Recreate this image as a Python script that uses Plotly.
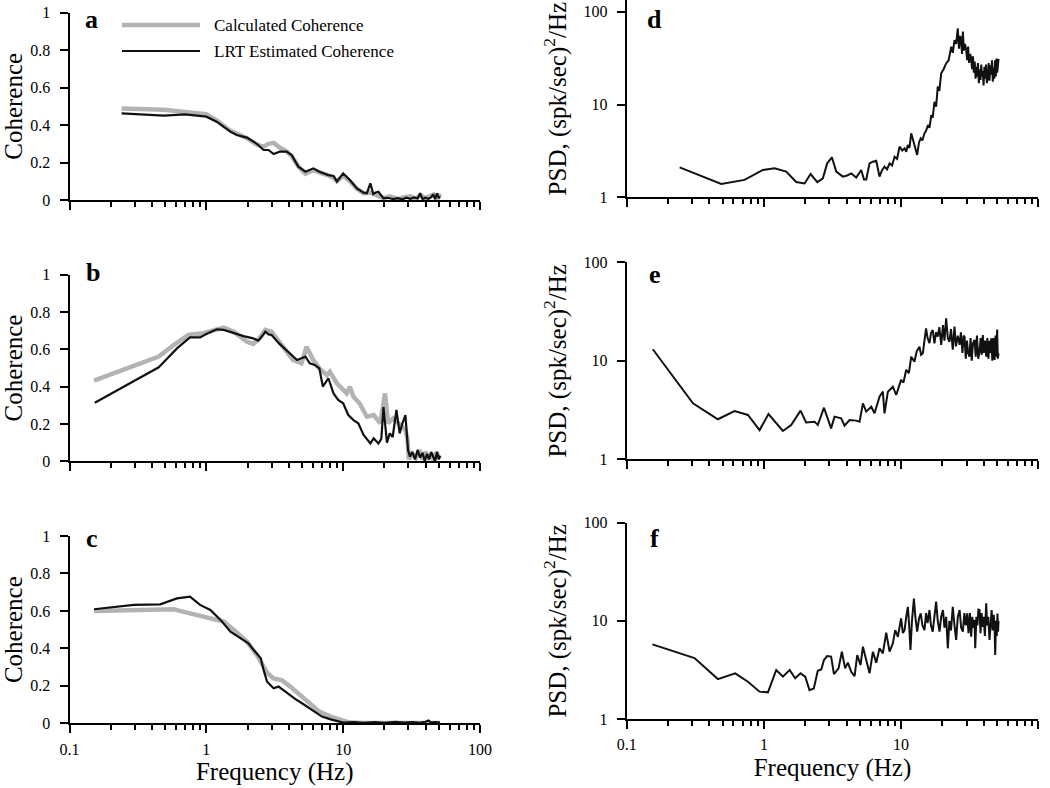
import plotly.graph_objects as go

# ---------------- data ----------------
# Panel a
a_calc_f = [0.24, 0.49, 0.70, 1.0, 1.19, 1.5, 1.98, 2.34, 2.62, 2.85, 3.1, 3.44, 3.86, 4.2, 4.7,
            5.3, 6.05, 6.7, 7.8, 8.5, 9.0, 10.0, 11.2, 12.6, 14.1, 15.8, 17.3, 19.7, 22, 25, 28,
            31, 34, 37, 40, 43, 46, 49, 51]
a_calc = [0.489, 0.482, 0.47, 0.458, 0.425, 0.37, 0.33, 0.295, 0.285, 0.30, 0.305, 0.28, 0.26,
          0.235, 0.18, 0.14, 0.16, 0.15, 0.13, 0.12, 0.10, 0.13, 0.10, 0.06, 0.035, 0.04, 0.03,
          0.01, 0.02, 0.005, 0.015, 0.02, 0.008, 0.025, 0.01, 0.02, 0.03, 0.01, 0.035]
a_lrt_f = [0.24, 0.49, 0.70, 1.0, 1.19, 1.5, 1.67, 1.98, 2.34, 2.62, 2.85, 3.1, 3.44, 3.86, 4.2,
           4.7, 5.3, 6.05, 6.7, 7.8, 8.5, 9.0, 10.0, 11.2, 12.6, 14.1, 14.9, 15.8, 16.6, 17.3,
           18.1, 19.7, 21.0, 23.2, 25.0, 27.0, 29.0, 31.0, 33.0, 35.0, 36.5, 38.0, 40.0, 42.0,
           44.0, 45.5, 47.0, 48.5, 50.0, 51.0]
a_lrt = [0.463, 0.45, 0.457, 0.445, 0.418, 0.365, 0.347, 0.333, 0.30, 0.267, 0.267, 0.245,
         0.258, 0.258, 0.24, 0.178, 0.151, 0.169, 0.151, 0.133, 0.128, 0.098, 0.142, 0.107,
         0.062, 0.039, 0.036, 0.089, 0.032, 0.040, 0.044, 0.009, 0.012, 0.005, 0.010, 0.004,
         0.012, 0.006, 0.014, 0.008, 0.036, 0.005, 0.012, 0.006, 0.015, 0.030, 0.004, 0.035,
         0.010, 0.020]

# Panel b
b_calc_f = [0.151, 0.449, 0.577, 0.74, 0.95, 1.19, 1.34, 1.59, 1.98, 2.2, 2.45, 2.7, 3.0, 3.4,
            4.3, 4.96, 5.4, 6.05, 6.7, 7.6, 8.0, 9.0, 10.6, 11.2, 11.9, 13.2, 14.9, 16.7, 18.7,
            20.2, 21.3, 23.2, 25.9, 28.5, 29.5, 30.2, 32, 34, 36, 38, 40, 42, 44, 46, 48, 50, 51]
b_calc = [0.432, 0.561, 0.623, 0.677, 0.686, 0.707, 0.716, 0.695, 0.641, 0.629, 0.66, 0.704,
          0.695, 0.641, 0.543, 0.525, 0.614, 0.543, 0.498, 0.4625, 0.48, 0.418, 0.364, 0.40,
          0.346, 0.31, 0.239, 0.248, 0.204, 0.364, 0.204, 0.23, 0.2, 0.168, 0.12, 0.01, 0.04,
          0.02, 0.06, 0.01, 0.05, 0.02, 0.04, 0.0, 0.05, 0.02, 0.03]
b_lrt_f = [0.153, 0.449, 0.52, 0.61, 0.76, 0.90, 1.0, 1.19, 1.34, 1.59, 1.87, 2.2, 2.4, 2.55,
           2.7, 2.85, 3.0, 3.4, 4.1, 4.6, 4.96, 5.3, 5.7, 6.2, 6.7, 7.1, 7.8, 8.5, 9.2, 10.0,
           10.9, 11.9, 12.9, 14.1, 15.8, 16.7, 18.1, 19.0, 19.7, 20.9, 21.9, 23.0, 24.5, 25.9,
           27.0, 28.5, 29.8, 30.8, 32, 33.5, 35, 36.5, 38, 39.5, 41, 42.5, 44, 45.5, 47, 48.5,
           50, 51]
b_lrt = [0.314, 0.504, 0.552, 0.605, 0.664, 0.664, 0.682, 0.707, 0.704, 0.686, 0.671, 0.659,
         0.646, 0.67, 0.695, 0.68, 0.677, 0.632, 0.579, 0.543, 0.552, 0.561, 0.525, 0.516,
         0.498, 0.40, 0.445, 0.364, 0.329, 0.311, 0.248, 0.221, 0.204, 0.141, 0.096, 0.123,
         0.096, 0.12, 0.29, 0.10, 0.15, 0.13, 0.275, 0.15, 0.20, 0.248, 0.06, 0.025, 0.05, 0.01,
         0.06, 0.02, 0.045, 0.0, 0.04, 0.01, 0.05, 0.02, 0.0, 0.05, 0.01, 0.03]

# Panel c
c_calc_f = [0.151, 0.58, 0.64, 0.9, 1.13, 1.34, 1.59, 1.98, 2.34, 2.78, 3.1, 3.55, 4.1, 4.8,
            5.7, 6.7, 8.1, 9.6, 11.2, 15, 20, 30, 40, 51]
c_calc = [0.6, 0.609, 0.6, 0.575, 0.56, 0.543, 0.498, 0.436, 0.365, 0.27, 0.24, 0.231, 0.196,
          0.151, 0.107, 0.062, 0.036, 0.018, 0.004, 0.002, 0.003, 0.002, 0.004, 0.002]
c_lrt_f = [0.151, 0.295, 0.46, 0.61, 0.76, 0.90, 1.07, 1.27, 1.5, 1.76, 2.03, 2.22, 2.5, 2.62,
           2.78, 3.1, 3.37, 3.87, 4.4, 5.1, 6.05, 7.0, 8.1, 9.0, 10, 12, 14, 17, 20, 24, 28,
           32, 36, 40, 42, 44, 47, 51]
c_lrt = [0.609, 0.632, 0.635, 0.667, 0.676, 0.632, 0.605, 0.552, 0.489, 0.454, 0.427, 0.391,
         0.347, 0.285, 0.222, 0.187, 0.196, 0.164, 0.133, 0.103, 0.068, 0.036, 0.021, 0.014,
         0.004, 0.006, 0.003, 0.006, 0.002, 0.008, 0.004, 0.007, 0.003, 0.008, 0.015, 0.004,
         0.006, 0.004]

# Panel d (PSD)
d_f = [0.243, 0.489, 0.723, 0.983, 1.196, 1.454, 1.72, 1.98, 2.19, 2.45, 2.69, 2.89, 3.13, 3.37,
       3.76, 4.05, 4.33, 4.71, 5.12, 5.36, 5.57, 5.89, 6.23, 6.59, 6.96, 7.25, 7.57, 7.9, 8.24,
       8.6, 8.96, 9.35, 9.74, 10.2, 10.6, 10.9, 11.2, 11.5, 11.85, 12.2, 12.5, 13.1, 13.5, 13.9,
       14.3, 14.8, 15.2, 15.7, 16.1, 16.6, 17.0, 17.5, 18.0, 18.5, 19.0, 19.6, 20.4, 21.3, 22.2,
       22.7, 23.2, 23.8, 24.5, 25.2, 25.9, 26.4, 27.0, 27.4, 27.8, 28.2, 28.7, 29.2, 29.8, 30.3,
       30.8, 31.3, 31.9, 32.4, 32.9, 33.4, 33.9, 34.4, 34.9, 35.3, 35.8, 36.3, 36.9, 37.4, 37.9,
       38.4, 38.9, 39.4, 39.9, 40.5, 41.0, 41.6, 42.2, 42.9, 43.5, 44.1, 44.7, 45.4, 46.0, 46.6,
       47.2, 47.8, 48.4, 49.0, 49.6, 50.2, 50.7, 51.3]
d_psd = [2.1, 1.39, 1.54, 1.97, 2.05, 1.89, 1.46, 1.41, 1.78, 1.46, 1.6, 2.32, 2.7, 1.89, 1.67,
         1.72, 1.81, 1.63, 1.97, 1.56, 1.56, 2.32, 2.42, 2.48, 1.67, 1.95, 2.14, 2.0, 2.32, 2.2,
         2.74, 2.6, 3.51, 3.2, 3.37, 3.1, 3.66, 3.4, 4.89, 4.2, 3.81, 2.86, 3.9, 4.32, 4.1, 4.89,
         5.2, 6.0, 5.6, 7.7, 7.2, 10.7, 9.5, 15.6, 14.0, 21.7, 24, 27.7, 30, 38, 42, 36, 49.5,
         45, 66, 40, 55, 48, 35, 61, 38, 45, 39, 30, 42, 28, 35, 31.3, 24, 33, 22, 29, 19, 25.5,
         20, 28, 17, 24, 18.4, 27, 20, 23, 16, 25.5, 19, 27, 17, 20, 28, 18, 26.5, 21, 30, 17.6,
         25, 19, 30, 20, 31.3, 22, 30, 31]

# Panel e (PSD)
e_f = [0.155, 0.304, 0.462, 0.611, 0.765, 0.93, 1.08, 1.375, 1.58, 1.85, 2.03, 2.34, 2.47, 2.74,
       3.09, 3.27, 3.66, 3.87, 4.21, 4.71, 4.98, 5.27, 5.57, 6.06, 6.4, 6.96, 7.36, 7.57, 8.01,
       8.71, 9.21, 10.0, 10.4, 10.9, 11.4, 11.85, 12.5, 13.0, 13.6, 14.0, 14.4, 14.8, 15.2, 15.6,
       16.1, 16.5, 17.0, 17.5, 18.0, 18.5, 19.0, 19.6, 20.2, 20.7, 21.3, 21.9, 22.5, 23.1, 23.8,
       24.5, 25.1, 25.9, 26.7, 27.3, 28.0, 28.6, 29.0, 29.6, 30.2, 30.8, 31.5, 32.1, 32.7, 33.4,
       34.3, 35.0, 35.7, 36.5, 37.3, 38.0, 38.7, 39.4, 40.0, 40.8, 41.7, 42.5, 43.3, 44.1, 44.7,
       45.4, 46.2, 47.0, 48.0, 48.8, 49.5, 50.1, 50.7, 51.3]
e_psd = [13.1, 3.7, 2.55, 3.09, 2.82, 1.98, 2.88, 1.94, 2.23, 3.12, 2.37, 2.41, 2.23, 3.34, 2.06,
         2.71, 2.61, 2.19, 2.5, 2.47, 2.41, 3.7, 3.05, 3.42, 2.93, 4.33, 4.86, 2.93, 4.86, 5.46,
         4.5, 6.4, 6.0, 8.1, 7.5, 11, 9.8, 12.5, 13.9, 11.5, 11.9, 16, 21.3, 17, 15.1, 19, 20.5,
         15, 19.5, 17.6, 22, 14.5, 23, 16, 27, 17, 15.6, 21, 13, 22.2, 14, 18, 14.5, 19.5, 12,
         18, 17.6, 10.5, 16, 12, 11, 17, 10, 15, 16.3, 11, 18, 10.5, 12.4, 17, 11.5, 18.3, 12, 16,
         11, 17, 10.5, 16, 12, 16.9, 10, 17, 10.2, 18, 11, 20.8, 10.5, 11.9]

# Panel f (PSD)
f_f = [0.154, 0.312, 0.462, 0.618, 0.765, 0.93, 1.07, 1.23, 1.375, 1.54, 1.69, 1.85, 2.0, 2.15,
       2.31, 2.47, 2.62, 2.74, 2.89, 3.09, 3.24, 3.5, 3.7, 3.91, 4.09, 4.33, 4.58, 4.79, 5.06,
       5.27, 5.57, 5.89, 6.23, 6.59, 6.96, 7.36, 7.79, 8.24, 8.71, 9.06, 9.47, 10.0, 10.3, 10.6,
       10.9, 11.2, 11.45, 11.7, 12.0, 12.4, 12.7, 13.1, 13.5, 13.9, 14.3, 14.8, 15.2, 15.6,
       16.1, 16.5, 17.0, 17.5, 18.0, 18.5, 19.05, 19.6, 20.2, 20.7, 21.3, 21.9, 22.5, 23.1,
       23.8, 24.5, 25.2, 25.9, 26.7, 27.4, 28.2, 28.9, 29.6, 30.3, 31.0, 31.7, 32.4, 33.0,
       33.6, 34.3, 34.7, 35.4, 36.0, 36.6, 37.3, 37.9, 38.6, 39.4, 40.0, 40.8, 41.7, 42.4,
       43.2, 44.1, 44.9, 45.7, 46.5, 47.3, 48.0, 48.5, 49.2, 49.8, 50.4, 50.9, 51.3]
f_psd = [5.76, 4.18, 2.55, 2.92, 2.4, 1.9, 1.87, 3.16, 2.7, 3.16, 2.6, 2.92, 2.7, 1.97, 2.05,
         3.1, 3.2, 3.99, 4.38, 4.32, 2.87, 3.28, 4.85, 3.28, 3.75, 3.03, 2.74, 4.48, 3.55, 5.45,
         3.99, 2.92, 4.85, 3.75, 5.25, 4.66, 7.56, 4.85, 5.9, 8.05, 6.88, 10.6, 7.5, 8.05, 11,
         13.9, 9, 5.04, 10, 16.9, 11, 7.77, 10.5, 11.9, 9, 8.05, 12, 9.5, 12.9, 9, 7.77, 11, 15.7,
         10, 7.77, 11, 12.9, 8.5, 11, 5.25, 10, 8, 13.9, 9, 6.38, 11, 12.9, 8.5, 7.77, 12, 9,
         11.9, 7.5, 12, 6.88, 11, 8.5, 10.2, 5.25, 11, 9, 13, 12.9, 7.5, 12, 8.7, 11, 7, 15.1, 9,
         11, 6.38, 10, 12.9, 8, 11.5, 9, 4.48, 10, 7, 11.9, 7.77, 10]

x_tickvals = [0.1, 1, 10, 100]
x_ticktext = ["0.1", "1", "10", "100"]
coh_tickvals = [0, 0.2, 0.4, 0.6, 0.8, 1]
coh_ticktext = ["0", "0.2", "0.4", "0.6", "0.8", "1"]
psd_tickvals = [1, 10, 100]
psd_ticktext = ["1", "10", "100"]
panel_letters = ["a", "b", "c", "d", "e", "f"]
legend_names = ["Calculated Coherence", "LRT Estimated Coherence"]

# ---------------- styling ----------------
FONT = "Liberation Serif"
GRAY = "#b3b3b3"
BLACK = "#111111"
W, H = 1050, 788

def px_x(p):
    return p / W

def px_y(p):
    return 1 - p / H

left_dom = [px_x(69.5), px_x(480)]
right_dom = [px_x(626.7), px_x(1038.3)]
ydoms = {
    1: [px_y(200), px_y(12.7)],
    2: [px_y(461.3), px_y(274.7)],
    3: [px_y(723.3), px_y(536)],
    4: [px_y(197.3), 1.0],
    5: [px_y(459.3), px_y(262.3)],
    6: [px_y(719), px_y(522.7)],
}
yranges_psd = {4: [0, 2.126], 5: [0, 2], 6: [0, 2]}

minor_vals = [m * 10 ** e for e in (-1, 0, 1) for m in range(2, 10)]

fig = go.Figure()

coh_data = [
    (a_calc_f, a_calc, a_lrt_f, a_lrt),
    (b_calc_f, b_calc, b_lrt_f, b_lrt),
    (c_calc_f, c_calc, c_lrt_f, c_lrt),
]
for i, (cf, cv, lf, lv) in enumerate(coh_data, start=1):
    xa = "x" if i == 1 else f"x{i}"
    ya = "y" if i == 1 else f"y{i}"
    fig.add_trace(go.Scatter(x=cf, y=cv, mode="lines", name=legend_names[0],
                             line=dict(color=GRAY, width=4.5), xaxis=xa, yaxis=ya,
                             showlegend=False))
    fig.add_trace(go.Scatter(x=lf, y=lv, mode="lines", name=legend_names[1],
                             line=dict(color=BLACK, width=2.2), xaxis=xa, yaxis=ya,
                             showlegend=False))

psd_data = [(d_f, d_psd), (e_f, e_psd), (f_f, f_psd)]
for j, (pf, pv) in enumerate(psd_data, start=4):
    fig.add_trace(go.Scatter(x=pf, y=pv, mode="lines", name="PSD",
                             line=dict(color=BLACK, width=2), xaxis=f"x{j}", yaxis=f"y{j}",
                             showlegend=False))

tickfont = dict(family=FONT, size=16, color="black")
titlefont = dict(family=FONT, size=25, color="black")

layout = dict(
    width=W, height=H,
    margin=dict(l=0, r=0, t=0, b=0, autoexpand=False),
    paper_bgcolor="white", plot_bgcolor="white",
    font=dict(family=FONT, color="black"),
    showlegend=False,
)

for i in range(1, 7):
    key_x = "xaxis" if i == 1 else f"xaxis{i}"
    key_y = "yaxis" if i == 1 else f"yaxis{i}"
    ya = "y" if i == 1 else f"y{i}"
    xa = "x" if i == 1 else f"x{i}"
    bottom = i in (3, 6)
    xax = dict(
        type="log", range=[-1, 2], domain=left_dom if i <= 3 else right_dom,
        anchor=ya, tickvals=x_tickvals, ticktext=x_ticktext, automargin=False,
        showticklabels=bottom, ticks="outside", ticklen=8, tickwidth=2, tickcolor="black",
        showline=True, linecolor="black", linewidth=2, showgrid=False, zeroline=False,
        tickfont=tickfont, ticklabelstandoff=2,
        minor=dict(tickvals=minor_vals, ticks="outside", ticklen=5, tickwidth=2,
                   tickcolor="black", showgrid=False),
    )
    if bottom:
        xax["title"] = dict(text="Frequency (Hz)", font=titlefont, standoff=6)
    layout[key_x] = xax
    if i <= 3:
        yax = dict(
            range=[0, 1], domain=ydoms[i], anchor=xa,
            tickvals=coh_tickvals, ticktext=coh_ticktext,
            title=dict(text="Coherence", font=titlefont, standoff=29),
        )
    else:
        yax = dict(
            type="log", range=yranges_psd[i], domain=ydoms[i], anchor=xa,
            tickvals=psd_tickvals, ticktext=psd_ticktext,
            title=dict(text="PSD, (spk/sec)<sup>2</sup>/Hz", font=titlefont, standoff=10),
        )
    yax.update(ticks="outside", ticklen=8, tickwidth=2, tickcolor="black", automargin=False,
               showline=True, linecolor="black", linewidth=2, showgrid=False,
               zeroline=False, tickfont=tickfont, ticklabelstandoff=6)
    layout[key_y] = yax

fig.update_layout(**layout)

# panel letters
letter_pos = {1: (91.5, 20), 2: (93, 273), 3: (92, 538), 4: (654, 19), 5: (655, 274), 6: (654, 538)}
for i, letter in enumerate(panel_letters, start=1):
    lx, ly = letter_pos[i]
    fig.add_annotation(x=px_x(lx), y=px_y(ly), xref="paper", yref="paper", text=f"<b>{letter}</b>",
                       showarrow=False, xanchor="center", yanchor="middle",
                       font=dict(family=FONT, size=26, color="black"))

# legend (drawn in panel a)
for k, (name, col, wid, yy) in enumerate([(legend_names[0], GRAY, 4.5, 25), (legend_names[1], BLACK, 2.2, 51)]):
    fig.add_shape(type="line", xref="paper", yref="paper", x0=px_x(122), x1=px_x(200),
                  y0=px_y(yy), y1=px_y(yy), line=dict(color=col, width=wid))
    fig.add_annotation(x=px_x(212), y=px_y(yy), xref="paper", yref="paper", text=name,
                       showarrow=False, xanchor="left", yanchor="middle",
                       font=dict(family=FONT, size=17, color="black"))

# remove the default page margin so the figure sits at the window's top-left corner
fig.write_html("out.html", config={"displayModeBar": False},
               post_script="document.body.style.margin='0';")
